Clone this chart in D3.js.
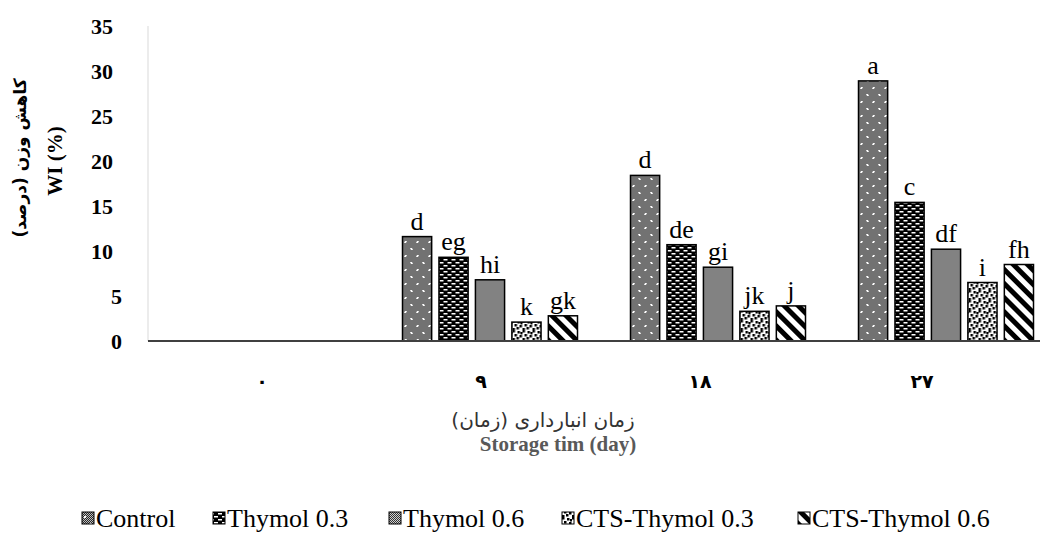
<!DOCTYPE html>
<html>
<head>
<meta charset="utf-8">
<script src="https://cdn.jsdelivr.net/npm/d3@7"></script>
<style>
  html, body { margin: 0; padding: 0; background: #fff; }
  svg { display: block; }
</style>
</head>
<body>
<div id="chart"></div>
<script>
// Weight loss (%) over storage time for each coating treatment
const days = ["٠", "٩", "١٨", "٢٧"];
const seriesNames = ["Control", "Thymol 0.3", "Thymol 0.6", "CTS-Thymol 0.3", "CTS-Thymol 0.6"];
const control     = [0, 11.6, 18.4, 28.9];
const thymol03    = [0, 9.3, 10.7, 15.4];
const thymol06    = [0, 6.8, 8.2, 10.2];
const ctsThymol03 = [0, 2.1, 3.3, 6.5];
const ctsThymol06 = [0, 2.8, 3.9, 8.5];
// Significance letters (Duncan groups) above each bar
const lettersControl = ["", "d", "d", "a"];
const lettersT03     = ["", "eg", "de", "c"];
const lettersT06     = ["", "hi", "gi", "df"];
const lettersC03     = ["", "k", "jk", "i"];
const lettersC06     = ["", "gk", "j", "fh"];
const yTicks = [0, 5, 10, 15, 20, 25, 30, 35];

const seriesValues = [control, thymol03, thymol06, ctsThymol03, ctsThymol06];
const seriesLetters = [lettersControl, lettersT03, lettersT06, lettersC03, lettersC06];

const W = 1046, H = 538;
const svg = d3.select("#chart").append("svg").attr("width", W).attr("height", H);
const defs = svg.append("defs");

// ---- fill patterns ----
function checker(id, dark, light) {
  const p = defs.append("pattern").attr("id", id).attr("patternUnits", "userSpaceOnUse")
    .attr("width", 2).attr("height", 2);
  p.append("rect").attr("width", 2).attr("height", 2).attr("fill", light);
  p.append("rect").attr("width", 1).attr("height", 1).attr("fill", dark);
  p.append("rect").attr("x", 1).attr("y", 1).attr("width", 1).attr("height", 1).attr("fill", dark);
}
checker("chk-control", "#262626", "#bdbdbd");
checker("chk-t06", "#333", "#d0d0d0");

// Control: grey dither with small white dots
{
  const p = defs.append("pattern").attr("id", "pat-0").attr("patternUnits", "userSpaceOnUse")
    .attr("width", 12).attr("height", 14);
  p.append("rect").attr("width", 12).attr("height", 14).attr("fill", "url(#chk-control)");
  [[2, 3], [8, 10]].forEach(([x, y]) => {
    p.append("rect").attr("x", x).attr("y", y).attr("width", 2).attr("height", 2).attr("fill", "#fff");
  });
}
// Thymol 0.3: black with staggered white dashes
{
  const p = defs.append("pattern").attr("id", "pat-1").attr("patternUnits", "userSpaceOnUse")
    .attr("width", 8).attr("height", 6);
  p.append("rect").attr("width", 8).attr("height", 6).attr("fill", "#000");
  p.append("rect").attr("x", 1).attr("y", 1).attr("width", 4).attr("height", 1.5).attr("fill", "#fff");
  p.append("rect").attr("x", 5).attr("y", 4).attr("width", 3).attr("height", 1.5).attr("fill", "#fff");
  p.append("rect").attr("x", 0).attr("y", 4).attr("width", 1).attr("height", 1.5).attr("fill", "#fff");
}
// Thymol 0.6: plain grey dither
{
  const p = defs.append("pattern").attr("id", "pat-2").attr("patternUnits", "userSpaceOnUse")
    .attr("width", 2).attr("height", 2);
  p.append("rect").attr("width", 2).attr("height", 2).attr("fill", "url(#chk-t06)");
}
// CTS-Thymol 0.3: white with scattered black squares
{
  const p = defs.append("pattern").attr("id", "pat-3").attr("patternUnits", "userSpaceOnUse")
    .attr("width", 10).attr("height", 10);
  p.append("rect").attr("width", 10).attr("height", 10).attr("fill", "#fff");
  [[0, 0], [5, 1], [2, 4], [7, 5], [4, 7], [0, 8], [8, 2]].forEach(([x, y]) => {
    p.append("rect").attr("x", x).attr("y", y).attr("width", 2.5).attr("height", 2.5).attr("fill", "#000");
  });
}
// CTS-Thymol 0.6: wide downward diagonal stripes
{
  const p = defs.append("pattern").attr("id", "pat-4").attr("patternUnits", "userSpaceOnUse")
    .attr("width", 10).attr("height", 10).attr("patternTransform", "rotate(-45)");
  p.append("rect").attr("width", 10).attr("height", 10).attr("fill", "#fff");
  p.append("rect").attr("width", 5).attr("height", 10).attr("fill", "#000");
}

// ---- scales ----
const plotLeft = 148, plotRight = 1060, baseY = 341;
const y = d3.scaleLinear().domain([0, 35]).range([baseY, 26]);
const x0 = d3.scaleBand().domain(days).range([plotLeft, plotRight]).paddingInner(0).paddingOuter(0);
const groupW = 175;
const x1 = d3.scaleBand().domain(seriesNames).range([0, groupW]).paddingInner(0.2).paddingOuter(0);

const serif = "Liberation Serif";
const persian = "DejaVu Sans";

// y axis labels (single digits sit a little further right)
const yAxis = d3.axisLeft(y).tickValues(yTicks).tickSize(0).tickPadding(0);
const yg = svg.append("g").attr("transform", `translate(122,0)`).call(yAxis)
  .attr("font-family", serif);
yg.select(".domain").remove();
yg.selectAll("text").attr("font-family", serif).attr("font-weight", "bold")
  .attr("font-size", 22).attr("fill", "#000").attr("dy", "0.35em")
  .attr("dx", d => (d >= 10 ? -9 : 0));

// left edge line of plot area
svg.append("line").attr("x1", plotLeft).attr("x2", plotLeft).attr("y1", y(35)).attr("y2", baseY)
  .attr("stroke", "#d9d9d9").attr("stroke-width", 1);

// bars
const groups = svg.append("g").selectAll("g").data(days).join("g")
  .attr("transform", d => `translate(${x0(d) + (x0.bandwidth() - groupW) / 2},0)`);

groups.each(function (day, di) {
  const g = d3.select(this);
  seriesNames.forEach((name, si) => {
    const v = seriesValues[si][di];
    if (v <= 0) return;
    g.append("rect")
      .attr("x", x1(name)).attr("y", y(v))
      .attr("width", x1.bandwidth()).attr("height", baseY - y(v))
      .attr("fill", `url(#pat-${si})`).attr("stroke", "#000").attr("stroke-width", 1.5);
    g.append("text")
      .attr("x", x1(name) + x1.bandwidth() / 2).attr("y", y(v) - 7)
      .attr("text-anchor", "middle").attr("font-family", serif).attr("font-size", 26)
      .attr("fill", "#000").text(seriesLetters[si][di]);
  });
});

// x axis baseline
svg.append("line").attr("x1", plotLeft).attr("x2", 1040).attr("y1", baseY).attr("y2", baseY)
  .attr("stroke", "#404040").attr("stroke-width", 2);

// x tick labels (Persian digits)
const xAxis = d3.axisBottom(x0).tickSize(0).tickPadding(0);
const xg = svg.append("g").attr("transform", `translate(0,${baseY})`).call(xAxis);
xg.select(".domain").remove();
xg.selectAll("text").attr("font-family", persian).attr("font-weight", "bold")
  .attr("font-size", 19).attr("fill", "#000").attr("y", 47).attr("dy", 0)
  .attr("dx", (d, i) => -[0, 9, 18, 24][i]);

// axis titles
svg.append("text").attr("x", 543).attr("y", 427).attr("text-anchor", "middle")
  .attr("font-family", persian).attr("font-size", 20).attr("fill", "#333")
  .attr("direction", "rtl").text("زمان انبارداری (زمان)");
svg.append("text").attr("x", 558).attr("y", 451).attr("text-anchor", "middle")
  .attr("font-family", serif).attr("font-weight", "bold").attr("font-size", 21).attr("fill", "#595959")
  .text("Storage tim (day)");

svg.append("text").attr("transform", "translate(26,158) rotate(-90)").attr("text-anchor", "middle")
  .attr("font-family", persian).attr("font-weight", "bold").attr("font-size", 17).attr("fill", "#000")
  .attr("direction", "rtl").text("کاهش وزن (درصد)");
svg.append("text").attr("transform", "translate(62,161) rotate(-90)").attr("text-anchor", "middle")
  .attr("font-family", serif).attr("font-weight", "bold").attr("font-size", 21).attr("fill", "#000")
  .text("WI (%)");

// legend
const legendX = [82, 213, 389, 562, 798];
const legend = svg.append("g").selectAll("g").data(seriesNames).join("g")
  .attr("transform", (d, i) => `translate(${legendX[i]},527)`);
legend.append("rect").attr("x", 0).attr("y", -15).attr("width", 12).attr("height", 12)
  .attr("fill", (d, i) => `url(#pat-${i})`).attr("stroke", "#000").attr("stroke-width", 1);
legend.append("text").attr("x", 14).attr("y", 0).attr("font-family", serif).attr("font-size", 26)
  .attr("fill", "#000").text(d => d);
</script>
</body>
</html>
